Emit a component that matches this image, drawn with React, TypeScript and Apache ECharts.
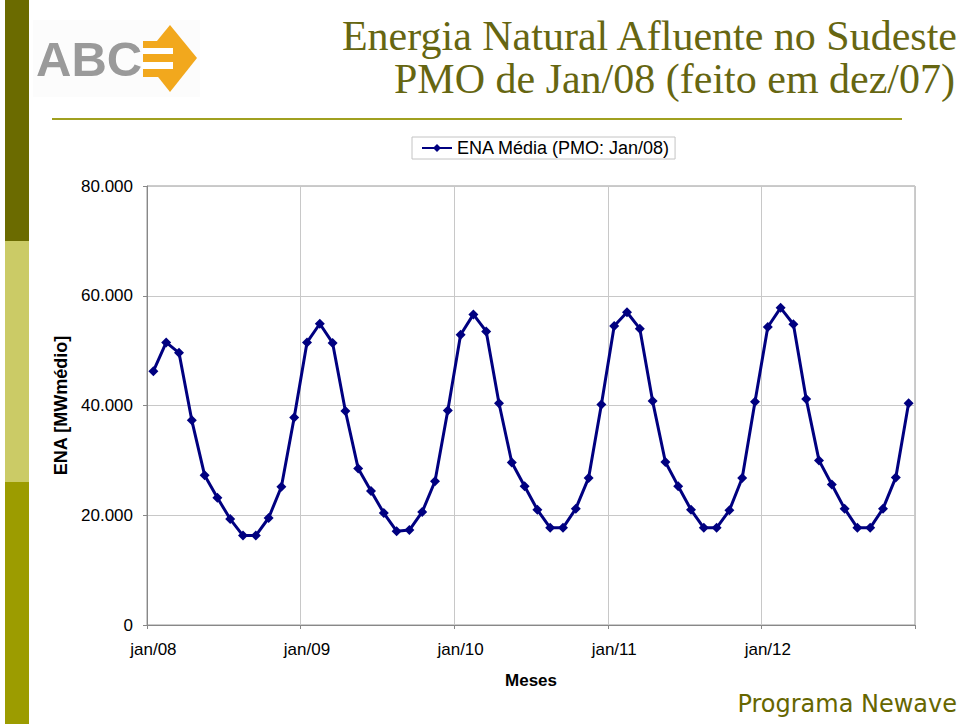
import React, { useEffect, useRef } from "react";
import * as echarts from "echarts";

const months = ["jan", "fev", "mar", "abr", "mai", "jun", "jul", "ago", "set", "out", "nov", "dez"];
const years = ["08", "09", "10", "11", "12"];
const categories: string[] = years.flatMap((y) => months.map((m) => `${m}/${y}`));

const seriesName = "ENA Média (PMO: Jan/08)";
const enaValues = [
  46250, 51500, 49600, 37300, 27300, 23200, 19300, 16300, 16300, 19500, 25200, 37800,
  51500, 54900, 51400, 39000, 28500, 24400, 20400, 17100, 17300, 20600, 26200, 39100,
  52900, 56600, 53500, 40400, 29600, 25300, 21000, 17700, 17700, 21200, 26800, 40200,
  54500, 57000, 54000, 40800, 29700, 25300, 21000, 17700, 17700, 20900, 26800, 40700,
  54300, 57800, 54800, 41200, 30000, 25600, 21200, 17700, 17700, 21200, 26900, 40400,
];

const titleLine1 = "Energia Natural Afluente no Sudeste";
const titleLine2 = "PMO de Jan/08 (feito em dez/07)";
const footerText = "Programa Newave";
const yAxisTitle = "ENA [MWmédio]";
const xAxisTitle = "Meses";

const SANS = "'Liberation Sans', Arial, sans-serif";
const SERIF = "'Liberation Serif', 'Times New Roman', serif";

function fmt(v: number): string {
  return String(v).replace(/\B(?=(\d{3})+(?!\d))/g, ".");
}

export default function App() {
  const ref = useRef<HTMLDivElement>(null);
  useEffect(() => {
    if (!ref.current) return;
    const chart = echarts.init(ref.current, null, { renderer: "svg" });
    const orange = "#f2a81d";
    chart.setOption({
      animation: false,
      backgroundColor: "#ffffff",
      grid: {
        left: 147,
        right: 45,
        top: 186,
        bottom: 99,
        show: true,
        borderColor: "#999999",
        borderWidth: 1,
      },
      legend: {
        data: [seriesName],
        left: 412,
        top: 137,
        padding: [2, 5, 2, 9],
        itemWidth: 30,
        itemHeight: 10,
        borderColor: "#c4c4c4",
        borderWidth: 1,
        textStyle: { fontFamily: SANS, fontSize: 18, color: "#000" },
      },
      xAxis: {
        type: "category",
        data: categories,
        boundaryGap: true,
        name: xAxisTitle,
        nameLocation: "middle",
        nameGap: 47,
        nameTextStyle: { fontFamily: SANS, fontSize: 17, fontWeight: "bold", color: "#000" },
        axisLine: { lineStyle: { color: "#888888", width: 1 } },
        axisTick: { show: true, interval: 11, length: 4, lineStyle: { color: "#888888" } },
        axisLabel: { interval: 11, margin: 16, fontFamily: SANS, fontSize: 17, color: "#000" },
        splitLine: { show: true, interval: 11, lineStyle: { color: "#c8c8c8", width: 1 } },
      },
      yAxis: {
        type: "value",
        min: 0,
        max: 80000,
        interval: 20000,
        name: yAxisTitle,
        nameLocation: "middle",
        nameRotate: 90,
        nameGap: 76,
        nameTextStyle: { fontFamily: SANS, fontSize: 18, fontWeight: "bold", color: "#000" },
        axisLine: { show: true, lineStyle: { color: "#888888", width: 1 } },
        axisTick: { show: true, length: 4, lineStyle: { color: "#888888" } },
        axisLabel: { margin: 14, fontFamily: SANS, fontSize: 17, color: "#000", formatter: (v: number) => fmt(v) },
        splitLine: { show: true, lineStyle: { color: "#c8c8c8", width: 1 } },
      },
      series: [
        {
          name: seriesName,
          type: "line",
          data: enaValues,
          symbol: "diamond",
          symbolSize: 10,
          showSymbol: true,
          showAllSymbol: true,
          lineStyle: { color: "#000080", width: 3 },
          itemStyle: { color: "#000080" },
        },
      ],
      graphic: [
        { type: "rect", shape: { x: 5, y: 0, width: 24, height: 241 }, style: { fill: "#6b6b00" } },
        { type: "rect", shape: { x: 5, y: 241, width: 24, height: 241 }, style: { fill: "#cbcb66" } },
        { type: "rect", shape: { x: 5, y: 482, width: 24, height: 242 }, style: { fill: "#9c9c00" } },
        { type: "rect", shape: { x: 33, y: 20, width: 167, height: 77 }, style: { fill: "#fcfcfc" } },
        {
          type: "text",
          style: { text: "ABC", x: 36, y: 59, fontFamily: SANS, fontSize: 49, fontWeight: "bold", fill: "#9a9a9a", verticalAlign: "middle" },
        },
        { type: "polygon", shape: { points: [[170, 25], [197, 58], [170, 92], [143, 58]] }, style: { fill: orange } },
        { type: "rect", shape: { x: 143, y: 41, width: 28, height: 36 }, style: { fill: orange } },
        { type: "rect", shape: { x: 142, y: 48, width: 31, height: 6 }, style: { fill: "#ffffff" } },
        { type: "rect", shape: { x: 142, y: 62, width: 31, height: 7 }, style: { fill: "#ffffff" } },
        {
          type: "text",
          style: { text: titleLine1, x: 957, y: 36, textAlign: "right", verticalAlign: "middle", fontFamily: SERIF, fontSize: 42, fill: "#666611" },
        },
        {
          type: "text",
          style: { text: titleLine2, x: 955, y: 79, textAlign: "right", verticalAlign: "middle", fontFamily: SERIF, fontSize: 42, fill: "#666611" },
        },
        { type: "line", shape: { x1: 52, y1: 119, x2: 902, y2: 119 }, style: { stroke: "#a0a020", lineWidth: 2 } },
        {
          type: "text",
          style: { text: footerText, x: 957, y: 704, textAlign: "right", verticalAlign: "middle", fontFamily: "'DejaVu Sans', Verdana, sans-serif", fontSize: 24, fill: "#666600" },
        },
      ],
    });
    return () => chart.dispose();
  }, []);
  return <div ref={ref} style={{ position: "fixed", left: 0, top: 0, width: 960, height: 724, background: "#fff" }} />;
}
